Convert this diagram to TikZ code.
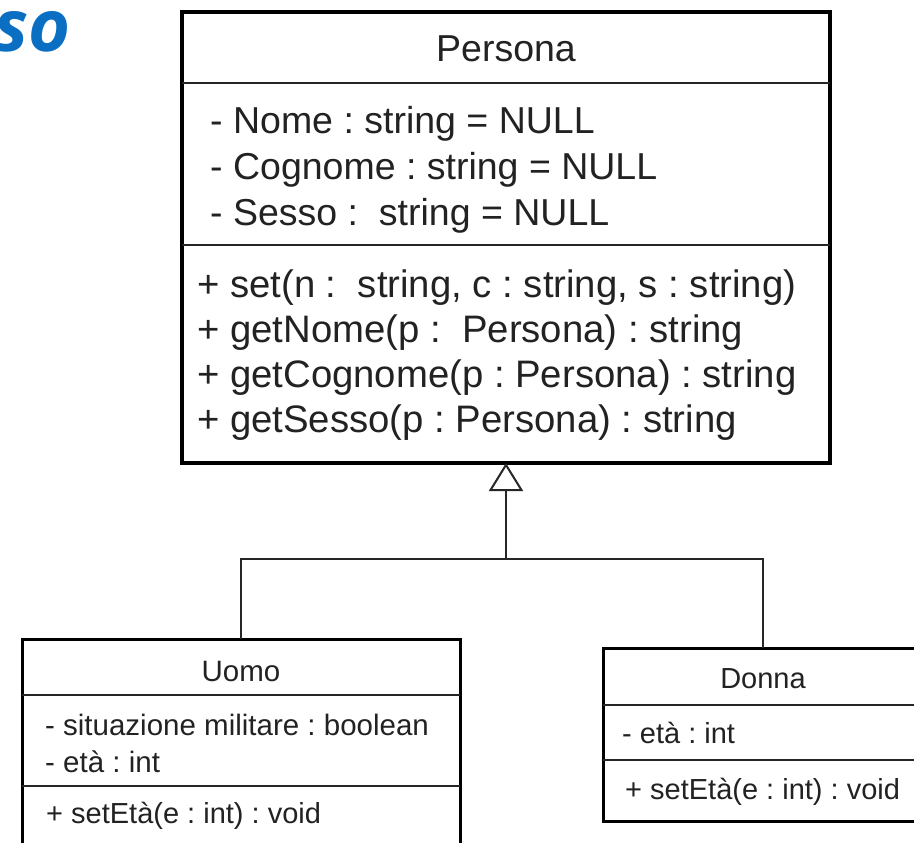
\documentclass[tikz,border=0pt]{standalone}
\usepackage{fontspec}
\setmainfont{Liberation Sans}
\newfontfamily\classfont{Liberation Sans}
\newfontfamily\headfont{Open Sans}
\usetikzlibrary{arrows.meta}
\definecolor{inkgray}{HTML}{222222}
\definecolor{headblue}{HTML}{0A6FC2}
\frenchspacing

\begin{document}
\begin{tikzpicture}[x=1pt,y=-1pt,
  classbox/.style={draw=black, line width=#1, outer sep=0pt, inner sep=0pt, anchor=north west},
  classbox/.default=3.8pt,
  sepline/.style={line width=1.8pt, draw=black!85},
  member/.style={anchor=base west, inner sep=0pt, text=inkgray},
  cname/.style={anchor=base, inner sep=0pt, text=inkgray},
  pfont/.style={font=\classfont\fontsize{37.5}{37.5}\selectfont},
  mfont/.style={font=\classfont\fontsize{38.3}{38.3}\selectfont},
  sfont/.style={font=\classfont\fontsize{29.5}{29.5}\selectfont},
  dfont/.style={font=\classfont\fontsize{29}{29}\selectfont},
  link/.style={line width=2pt, draw=black!85}
]
\useasboundingbox (0,0) rectangle (914,843);
\clip (0,0) rectangle (914,843);

% heading fragment
\node[anchor=base east, inner sep=0pt, text=headblue,
      font=\headfont\bfseries\itshape\fontsize{72}{72}\selectfont] (head) at (71,52) {so};

% class Persona
\node[classbox, minimum width=648pt, minimum height=451pt] (persona) at (182,12) {};
\draw[sepline] (persona.west |- 0,83) -- (persona.east |- 0,83);
\draw[sepline] (persona.west |- 0,245) -- (persona.east |- 0,245);
\node[cname, pfont] (pname) at (506,62) {Persona};
\node[member, pfont] (pa1) at (210,133) {- Nome : string = NULL};
\node[member, pfont] (pa2) at (210,179) {- Cognome : string = NULL};
\node[member, pfont] (pa3) at (210,225) {- Sesso :\ \ string = NULL};
\node[member, mfont] (pm1) at (197,297) {+ set(n :\ \ string, c : string, s : string)};
\node[member, mfont] (pm2) at (197,342) {+ getNome(p :\ \ Persona) : string};
\node[member, mfont] (pm3) at (197,387) {+ getCognome(p : Persona) : string};
\node[member, mfont] (pm4) at (197,432) {+ getSesso(p : Persona) : string};

% class Uomo
\node[classbox=3pt, minimum width=438pt, minimum height=240pt] (uomo) at (22,639) {};
\draw[sepline] (uomo.west |- 0,695) -- (uomo.east |- 0,695);
\draw[sepline] (uomo.west |- 0,786) -- (uomo.east |- 0,786);
\node[cname, sfont] (uname) at (241,681) {Uomo};
\node[member, sfont] (ua1) at (45,735) {- situazione militare : boolean};
\node[member, sfont] (ua2) at (45,772) {- età : int};
\node[member, dfont] (um1) at (46,823) {+ setEtà(e : int) : void};

% class Donna
\node[classbox=3pt, minimum width=320pt, minimum height=173pt] (donna) at (603,648) {};
\draw[sepline] (donna.west |- 0,705) -- (donna.east |- 0,705);
\draw[sepline] (donna.west |- 0,760) -- (donna.east |- 0,760);
\node[cname, dfont] (dname) at (763,688) {Donna};
\node[member, dfont] (da1) at (622,743) {- età : int};
\node[member, dfont] (dm1) at (625,799) {+ setEtà(e : int) : void};

% generalization
\coordinate (fork) at (506,559);
\draw[link] (uomo.north) |- (fork) -| (donna.north);
\draw[link, -{Triangle[open, length=28pt, width=34pt, fill=white]}] (fork) -- (persona.south);
\end{tikzpicture}
\end{document}
